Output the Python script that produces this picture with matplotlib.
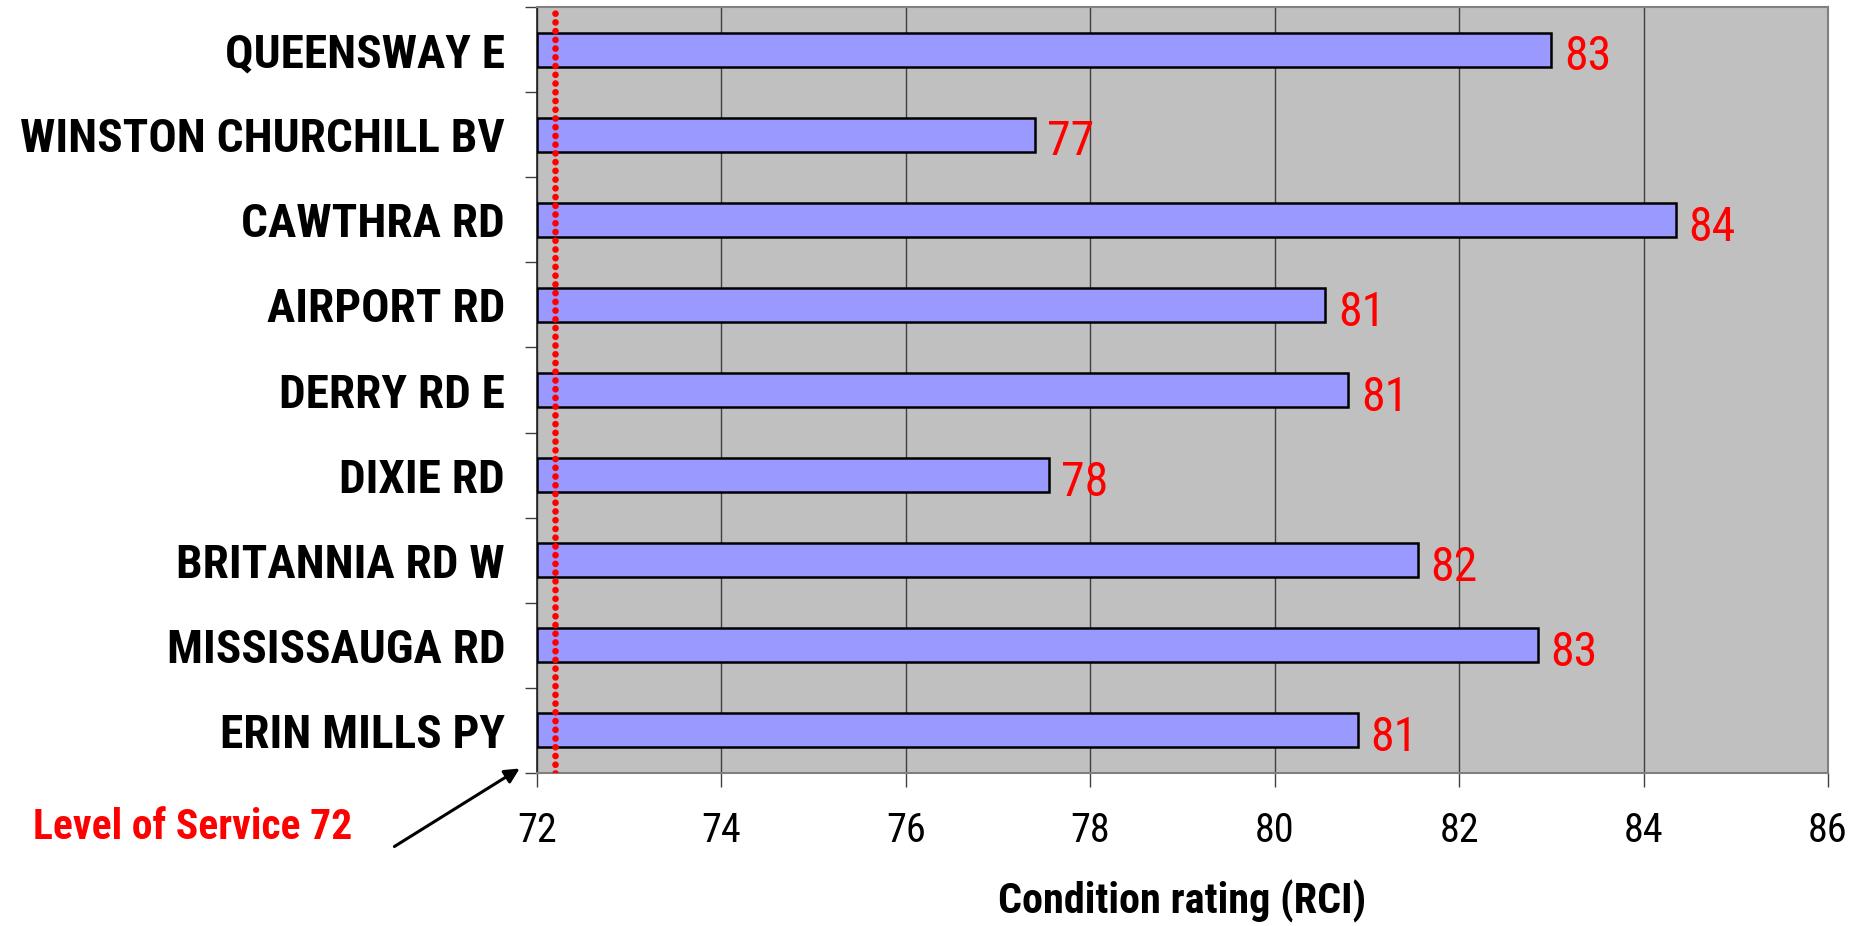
import numpy as np
import matplotlib
matplotlib.use("Agg")
import matplotlib.pyplot as plt
from matplotlib import font_manager as fm
from matplotlib.textpath import TextPath
from matplotlib.ticker import FixedLocator, NullFormatter

# data, top bar first
roads = ['QUEENSWAY E', 'WINSTON CHURCHILL BV', 'CAWTHRA RD', 'AIRPORT RD',
         'DERRY RD E', 'DIXIE RD', 'BRITANNIA RD W', 'MISSISSAUGA RD',
         'ERIN MILLS PY']
rci = [83.0, 77.4, 84.35, 80.55, 80.8, 77.55, 81.55, 82.85, 80.9]
x_ticks = [72, 74, 76, 78, 80, 82, 84, 86]
los_line = 72.2
los_text = 'Level of Service 72'

# the original uses a narrow Arial; take a condensed face if one is installed
installed = {f.name for f in fm.fontManager.ttflist}
narrow = [n for n in ['Liberation Sans Narrow', 'Arial Narrow', 'Roboto Condensed',
                      'Noto Sans Condensed', 'Open Sans Condensed',
                      'DejaVu Sans Condensed'] if n in installed]
FONT = narrow[:1] + ['Liberation Sans', 'DejaVu Sans']


def fit(text, px, weight='normal'):
    # font size (pt) that gives the text the width it has in the original
    prop = fm.FontProperties(family=FONT, weight=weight)
    w = TextPath((0, 0), text, size=10, prop=prop).get_extents().width
    return 10 * px / (w * 100 / 72)


def main():
    plt.rcParams['font.family'] = FONT
    fig = plt.figure(figsize=(18.64, 9.26), dpi=100)
    ax = fig.add_axes([537 / 1864, 1 - 773 / 926, 1291 / 1864, 766 / 926])
    ax.set_facecolor('#c0c0c0')

    ylab_size = min(fit('WINSTON CHURCHILL BV', 490, 'bold'), 34)
    val_size = min(fit('83', 44), 34.5)
    tick_size = min(fit('86', 40), 29)
    xlab_size = min(fit('Condition rating (RCI)', 364, 'bold'), 30.5)
    los_size = min(fit(los_text, 324, 'bold'), 30)

    y = np.arange(len(roads))
    base = x_ticks[0]
    widths = [v - base for v in rci]
    bars = ax.barh(y, widths, left=base, height=0.4, color='#9999ff',
                   edgecolor='black', linewidth=1.8, zorder=3)

    for b, v in zip(bars, rci):
        ax.annotate(f'{v:.0f}', xy=(b.get_x() + b.get_width(), b.get_y() + b.get_height() / 2),
                    xytext=(9, -2), textcoords='offset points',
                    va='center_baseline', ha='left', color='red', fontsize=val_size,
                    zorder=4)

    ax.axvline(los_line, color='red', linewidth=4.8, linestyle=(0, (0.01, 1.3)),
               dash_capstyle='round', zorder=5)

    ax.set_xlim(x_ticks[0], x_ticks[-1])
    ax.set_ylim(len(roads) - 0.5, -0.5)
    ax.set_xticks(x_ticks)
    ax.set_xticklabels([str(t) for t in x_ticks], fontsize=tick_size)
    ax.tick_params(axis='x', length=10, width=1, color='#404040', pad=17)
    ax.xaxis.grid(True, color='#404040', linewidth=1, zorder=1)
    ax.set_axisbelow(True)

    ax.yaxis.set_major_locator(FixedLocator(np.arange(-0.5, len(roads), 1.0)))
    ax.yaxis.set_major_formatter(NullFormatter())
    ax.yaxis.set_minor_locator(FixedLocator(y))
    ax.set_yticklabels(roads, minor=True, fontsize=ylab_size, fontweight='bold')
    ax.tick_params(axis='y', which='major', length=9, width=1, color='#404040')
    ax.tick_params(axis='y', which='minor', length=0, pad=23)

    for s in ['top', 'right', 'bottom']:
        ax.spines[s].set_color('#808080')
        ax.spines[s].set_linewidth(1.5)
    ax.spines['left'].set_color('#202020')
    ax.spines['left'].set_linewidth(1.2)

    ax.set_xlabel('Condition rating (RCI)', fontsize=xlab_size, fontweight='bold', labelpad=22)

    ax.text(-0.267, -0.0718, los_text, transform=ax.transAxes, color='red',
            fontsize=los_size, fontweight='bold', ha='center', va='center')
    ax.annotate('', xy=(-0.0116, 0.0078), xycoords='axes fraction',
                xytext=(-0.1123, -0.0979), textcoords='axes fraction',
                arrowprops=dict(arrowstyle='-|>', color='black', lw=2.2,
                                mutation_scale=22), annotation_clip=False)

    fig.savefig('out.png', dpi=100)


if __name__ == '__main__':
    main()
